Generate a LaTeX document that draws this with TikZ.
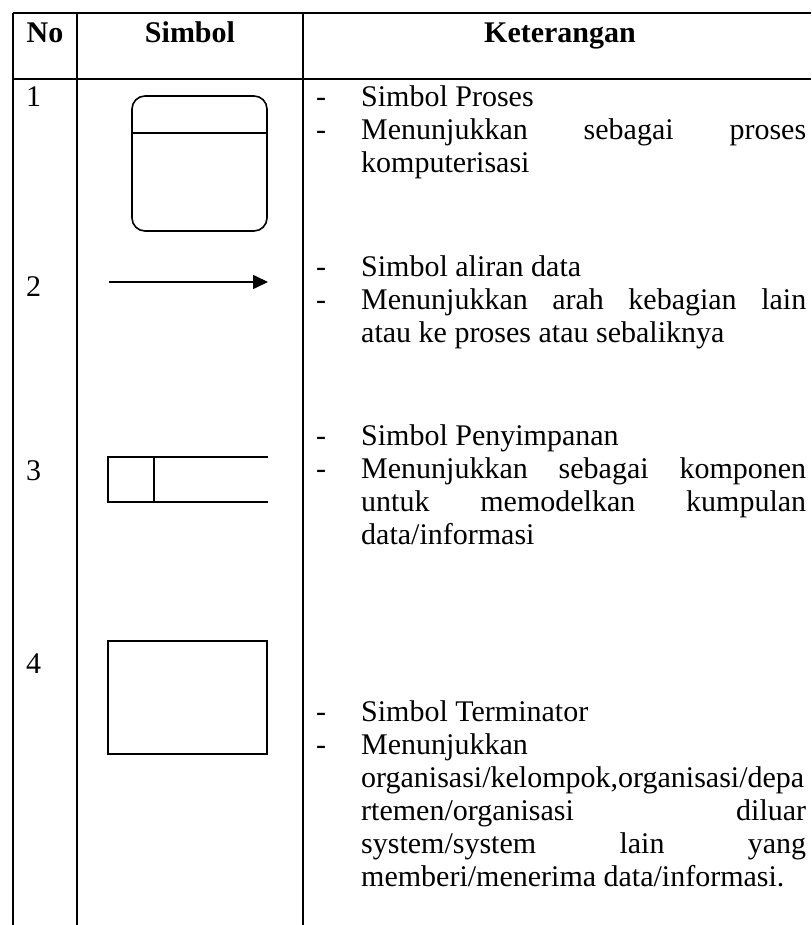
\documentclass[tikz,border=0pt]{standalone}
\usepackage{fontspec}
\setmainfont{Liberation Serif}
\usetikzlibrary{arrows.meta}
\newcommand{\setup}{
    \coordinate (g0) at (13,13);
    \coordinate (g1) at (811,13);
    \coordinate (g2) at (13,79);
    \coordinate (g3) at (811,79);

    \coordinate (c0) at (13,925);
    \coordinate (c1) at (77,13);
    \coordinate (c2) at (77,925);
    \coordinate (c3) at (303,13);
    \coordinate (c4) at (303,925);
}
\newcommand{\grid}{
    \draw[line width=1.3pt] (g0) -- (g1); % top rule
    \draw[line width=2.5pt] (g2) -- (g3); % header rule
    \draw[line width=1.3pt] (g0) -- (c0);
    \draw[line width=2.2pt] (c1) -- (c2);
    \draw[line width=1.3pt] (c3) -- (c4);
}
\newcommand{\ketline}[3]{
  \node[ket] (#1) at (361,#2) {#3};
}
\newcommand{\ketfull}[3]{
  \node[ket] (#1) at (361,#2) {\makebox[445pt][s]{#3}};
}
\newcommand{\strip}[2]{
  \node[ket] (#1) at (316,#2) {-};
}
\newcommand{\rownum}[3]{
  \node[ket] (#1) at (26,#2) {#3};
}

\begin{document}
\begin{tikzpicture}[x=1pt,y=-1pt,
    ket/.style={anchor=base west,inner sep=0pt,font=\fontsize{30}{33}\selectfont},
    head/.style={anchor=base,inner sep=0pt,font=\fontsize{30}{33}\selectfont\bfseries},
    sym/.style={line width=1.6pt}]
          \useasboundingbox (0,0) rectangle (811,925);
          \setup;
          \grid;

          \node[head] (hno) at (45,43) {No};
          \node[head] (hsim) at (190,43) {Simbol};
          \node[head] (hket) at (560,43) {Keterangan};

          \rownum{n1}{107}{1};
          \rownum{n2}{296}{2};
          \rownum{n3}{480}{3};
          \rownum{n4}{673}{4};

          % simbol proses
          \draw[sym,rounded corners=13pt] (132,96) rectangle (267,231);
          \draw[sym] (132,133) -- (267,133);

          % aliran data
          \coordinate (a0) at (109,282);
          \coordinate (a1) at (268,282);
          \draw[sym,-{Triangle[length=15pt,width=14pt]}] (a0) -- (a1);

          % penyimpanan
          \draw[sym] (268,457) -- (108,457) -- (108,502) -- (268,502);
          \draw[sym] (154,457) -- (154,502);

          % terminator
          \draw[sym] (108,641) rectangle (267,754);

          \strip{d1}{107};
          \ketline{k1}{107}{Simbol Proses};
          \strip{d2}{140};
          \ketfull{k2}{140}{Menunjukkan sebagai proses};
          \ketline{k3}{173}{komputerisasi};

          \strip{d3}{276};
          \ketline{k4}{276}{Simbol aliran data};
          \strip{d4}{309};
          \ketfull{k5}{309}{Menunjukkan arah kebagian lain};
          \ketline{k6}{342}{atau ke proses atau sebaliknya};

          \strip{d5}{445};
          \ketline{k7}{445}{Simbol Penyimpanan};
          \strip{d6}{478};
          \ketfull{k8}{478}{Menunjukkan sebagai komponen};
          \ketfull{k9}{511}{untuk memodelkan kumpulan};
          \ketline{k10}{544}{data/informasi};

          \strip{d7}{721};
          \ketline{k11}{721}{Simbol Terminator};
          \strip{d8}{754};
          \ketline{k12}{754}{Menunjukkan};
          \ketline{k13}{787}{organisasi/kelompok,organisasi/depa};
          \ketfull{k14}{820}{rtemen/organisasi diluar};
          \ketfull{k15}{853}{system/system lain yang};
          \ketline{k16}{886}{memberi/menerima data/informasi.};
        \end{tikzpicture}
\end{document}
